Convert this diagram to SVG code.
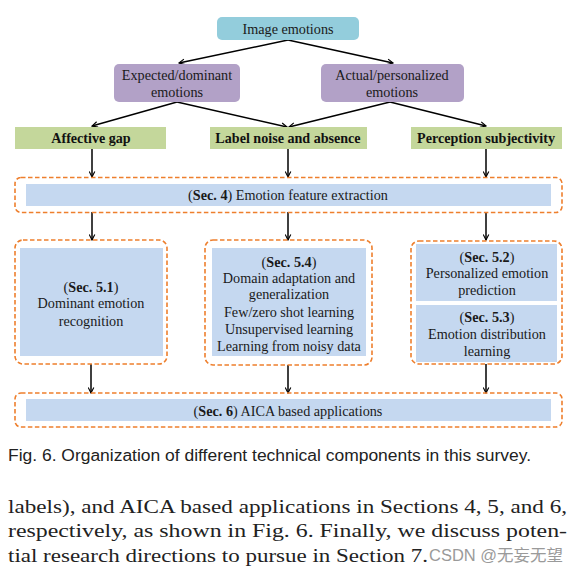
<svg xmlns="http://www.w3.org/2000/svg" width="579" height="573" viewBox="0 0 579 573">
<defs>
<style>
.t{font-family:"Liberation Serif","Times New Roman",serif;font-size:14.2px;fill:#1a1a1a;text-anchor:middle}
.g{font-family:"Liberation Serif","Times New Roman",serif;font-size:14.1px;font-weight:bold;fill:#111;text-anchor:middle}
.b{font-weight:bold}
.dash{fill:none;stroke:#EE7F2D;stroke-width:1.6;stroke-dasharray:4.5,2.5}
.blue{fill:#C5D8F0}
.con{stroke:#000;stroke-width:1.5;fill:none;marker-end:url(#ah)}
.body{font-family:"Liberation Serif","Palatino Linotype",serif;font-size:18px;fill:#222}
</style>
<marker id="ah" viewBox="0 0 10 10" refX="9" refY="5" markerWidth="7" markerHeight="7" orient="auto" markerUnits="userSpaceOnUse">
<path d="M1,1 L9,5 L1,9" fill="none" stroke="#000" stroke-width="1.6"/>
</marker>
</defs>
<rect width="579" height="573" fill="#fff"/>

<g id="connectors">
<line class="con" x1="288" y1="40" x2="179" y2="63"/>
<line class="con" x1="288" y1="40" x2="393" y2="63"/>
<line class="con" x1="177" y1="102" x2="92" y2="126"/>
<line class="con" x1="177" y1="102" x2="287" y2="127"/>
<line class="con" x1="390" y1="102" x2="289" y2="127"/>
<line class="con" x1="390" y1="102" x2="486" y2="126"/>
<line class="con" x1="92" y1="149" x2="92" y2="177"/>
<line class="con" x1="288" y1="149" x2="288" y2="177"/>
<line class="con" x1="486" y1="149" x2="486" y2="177"/>
<line class="con" x1="92" y1="212" x2="92" y2="240"/>
<line class="con" x1="288" y1="212" x2="288" y2="240"/>
<line class="con" x1="486" y1="212" x2="486" y2="240"/>
<line class="con" x1="91" y1="364" x2="91" y2="393"/>
<line class="con" x1="288" y1="365" x2="288" y2="393"/>
<line class="con" x1="486" y1="364" x2="486" y2="393"/>
</g>

<g id="image-emotions">
<rect x="217" y="17" width="142" height="23" rx="5" fill="#93CDDC"/>
<text class="t" x="288" y="33.5">Image emotions</text>
</g>

<g id="expected">
<rect x="114" y="64" width="126" height="38" rx="5" fill="#B2A1C7"/>
<text class="t" x="177" y="79.5">Expected/dominant</text>
<text class="t" x="177" y="96.5">emotions</text>
</g>

<g id="actual">
<rect x="321" y="64" width="143" height="38" rx="5" fill="#B2A1C7"/>
<text class="t" x="392" y="79.5">Actual/personalized</text>
<text class="t" x="392" y="96.5">emotions</text>
</g>

<g id="affective-gap">
<rect x="15" y="127" width="151" height="22" fill="#C4D79B"/>
<text class="g" x="91" y="142.8">Affective gap</text>
</g>

<g id="label-noise">
<rect x="210" y="127" width="157" height="22" fill="#C4D79B"/>
<text class="g" x="288" y="142.8">Label noise and absence</text>
</g>

<g id="perception">
<rect x="411" y="127" width="151" height="22" fill="#C4D79B"/>
<text class="g" x="486" y="142.8">Perception subjectivity</text>
</g>

<g id="sec4">
<rect class="dash" x="15" y="177.5" width="547" height="35" rx="6"/>
<rect class="blue" x="26" y="184" width="525" height="22"/>
<text class="t" x="288" y="200">(<tspan class="b">Sec. 4</tspan>) Emotion feature extraction</text>
</g>

<g id="sec51">
<rect class="dash" x="15" y="240" width="152" height="124" rx="8"/>
<rect class="blue" x="20" y="248" width="143" height="108"/>
<text class="t" x="91" y="291.5">(<tspan class="b">Sec. 5.1</tspan>)</text>
<text class="t" x="91" y="308">Dominant emotion</text>
<text class="t" x="91" y="325.5">recognition</text>
</g>

<g id="sec54">
<rect class="dash" x="205" y="240" width="167" height="125" rx="8"/>
<rect class="blue" x="212" y="248" width="154" height="108"/>
<text class="t" x="289" y="266.5">(<tspan class="b">Sec. 5.4</tspan>)</text>
<text class="t" x="289" y="282.5">Domain adaptation and</text>
<text class="t" x="289" y="299">generalization</text>
<text class="t" x="289" y="316.5">Few/zero shot learning</text>
<text class="t" x="289" y="333.5">Unsupervised learning</text>
<text class="t" x="289" y="350.5">Learning from noisy data</text>
</g>

<g id="sec52-53">
<rect class="dash" x="411" y="241" width="151" height="123" rx="8"/>
<rect class="blue" x="416" y="244" width="141" height="57"/>
<rect class="blue" x="416" y="305" width="141" height="57"/>
<text class="t" x="487" y="261.5">(<tspan class="b">Sec. 5.2</tspan>)</text>
<text class="t" x="487" y="277.5">Personalized emotion</text>
<text class="t" x="487" y="294.5">prediction</text>
<text class="t" x="487" y="321.5">(<tspan class="b">Sec. 5.3</tspan>)</text>
<text class="t" x="487" y="338.5">Emotion distribution</text>
<text class="t" x="487" y="356">learning</text>
</g>

<g id="sec6">
<rect class="dash" x="15" y="393" width="547" height="34" rx="6"/>
<rect class="blue" x="26" y="399" width="525" height="22"/>
<text class="t" x="288" y="415.5">(<tspan class="b">Sec. 6</tspan>) AICA based applications</text>
</g>

<text x="8" y="461" font-family="Liberation Sans, Arial, sans-serif" font-size="16" fill="#222" textLength="523" lengthAdjust="spacingAndGlyphs">Fig. 6. Organization of different technical components in this survey.</text>

<text class="body" x="8" y="513" textLength="559" lengthAdjust="spacingAndGlyphs">labels), and AICA based applications in Sections 4, 5, and 6,</text>
<text class="body" x="8" y="537" textLength="559" lengthAdjust="spacingAndGlyphs">respectively, as shown in Fig. 6. Finally, we discuss poten-</text>
<text class="body" x="8" y="562" textLength="420" lengthAdjust="spacingAndGlyphs">tial research directions to pursue in Section 7.</text>
<text x="429" y="561" font-family="Liberation Sans, 'Noto Sans CJK SC', sans-serif" font-size="16" fill="#9a9a9a" textLength="134" lengthAdjust="spacingAndGlyphs">CSDN @无妄无望</text>
</svg>
